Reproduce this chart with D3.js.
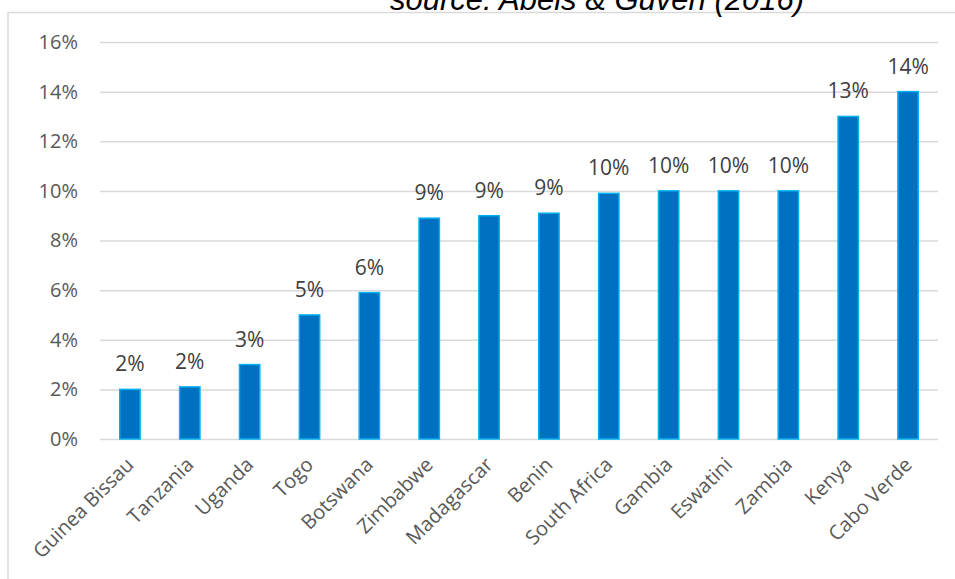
<!DOCTYPE html>
<html>
<head>
<meta charset="utf-8">
<script src="https://cdn.jsdelivr.net/npm/d3@7/dist/d3.min.js"></script>
<style>
  html, body { margin: 0; padding: 0; background: #fff; }
  svg { display: block; }
</style>
</head>
<body>
<svg id="chart" width="955" height="579"></svg>
<script>
// Countries, ordered by share
const countries = ["Guinea Bissau", "Tanzania", "Uganda", "Togo", "Botswana", "Zimbabwe",
  "Madagascar", "Benin", "South Africa", "Gambia", "Eswatini", "Zambia", "Kenya", "Cabo Verde"];
// Share of each country (fraction)
const shares = [0.020, 0.021, 0.030, 0.050, 0.059, 0.089, 0.090, 0.091, 0.099, 0.100, 0.100, 0.100, 0.130, 0.140];
// Y axis ticks
const yTicks = [0, 0.02, 0.04, 0.06, 0.08, 0.10, 0.12, 0.14, 0.16];
const titleText = "source: Abels & Guven (2016)";

const data = countries.map((c, i) => ({ country: c, value: shares[i] }));

const svg = d3.select("#chart");
const plot = { left: 100, right: 938, top: 42, bottom: 439 };

const x = d3.scaleBand().domain(countries).range([plot.left, plot.right]).paddingInner(0.66).paddingOuter(0.33);
const y = d3.scaleLinear().domain([0, 0.16]).range([plot.bottom, plot.top]);
const pct = d3.format(".0%");

// Chart frame (top and left edges)
svg.append("line").attr("x1", 8).attr("x2", 955).attr("y1", 12.5).attr("y2", 12.5)
  .attr("stroke", "#d9d9d9").attr("stroke-width", 1.5);
svg.append("line").attr("x1", 8).attr("x2", 8).attr("y1", 12).attr("y2", 579)
  .attr("stroke", "#d9d9d9").attr("stroke-width", 1.5);

// Title
svg.append("text").attr("x", 597).attr("y", 10).attr("text-anchor", "middle")
  .attr("font-family", "Liberation Sans, Arial, sans-serif").attr("font-style", "italic")
  .attr("font-size", 31).attr("fill", "#000").text(titleText);

// Gridlines and y tick labels
const yAxis = d3.axisLeft(y).tickValues(yTicks).tickFormat(pct).tickSize(-(plot.right - plot.left)).tickPadding(22);
const gy = svg.append("g").attr("transform", `translate(${plot.left},0)`).call(yAxis);
gy.select(".domain").remove();
gy.selectAll(".tick line").attr("stroke", "#d9d9d9").attr("stroke-width", 1.5);
gy.selectAll(".tick text").attr("font-family", "Open Sans, sans-serif").attr("font-size", 20)
  .attr("fill", "#595959");

// Bars
svg.append("g").selectAll("rect").data(data).join("rect")
  .attr("x", d => x(d.country))
  .attr("y", d => y(d.value))
  .attr("width", x.bandwidth())
  .attr("height", d => y(0) - y(d.value))
  .attr("fill", "#0070c0")
  .attr("stroke", "#00b0f0")
  .attr("stroke-width", 1.5);

// Value labels
svg.append("g").selectAll("text").data(data).join("text")
  .attr("x", d => x(d.country) + x.bandwidth() / 2)
  .attr("y", d => y(d.value) - 18)
  .attr("text-anchor", "middle")
  .attr("font-family", "Open Sans, sans-serif").attr("font-size", 21).attr("fill", "#404040")
  .text(d => pct(d.value));

// Category labels, rotated
const xAxis = d3.axisBottom(x).tickSize(0).tickPadding(0);
const gx = svg.append("g").attr("transform", `translate(0,${plot.bottom})`).call(xAxis);
gx.select(".domain").remove();
gx.selectAll(".tick text")
  .attr("font-family", "Open Sans, sans-serif").attr("font-size", 20).attr("fill", "#595959")
  .attr("text-anchor", "end").attr("dy", 0)
  .attr("transform", "translate(5,27) rotate(-45)");
</script>
</body>
</html>
